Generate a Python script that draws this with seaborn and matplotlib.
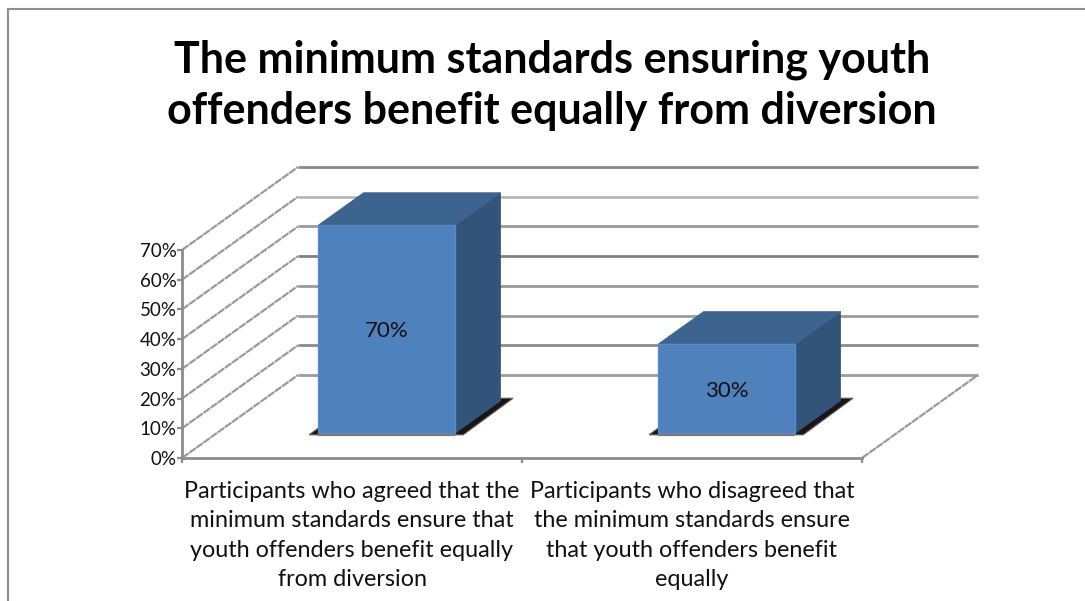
import matplotlib
matplotlib.use("Agg")
import matplotlib.pyplot as plt
from matplotlib.lines import Line2D
from matplotlib.patches import Polygon
from matplotlib.transforms import Affine2D
import pandas as pd
import seaborn as sns

categories = [
    "Participants who agreed that the\nminimum standards ensure that\nyouth offenders benefit equally\nfrom diversion",
    "Participants who disagreed that\nthe minimum standards ensure\nthat youth offenders benefit\nequally",
]
shares = [0.70, 0.30]
share_labels = ["70%", "30%"]
y_ticks = [0.0, 0.1, 0.2, 0.3, 0.4, 0.5, 0.6, 0.7]
y_tick_labels = ["0%", "10%", "20%", "30%", "40%", "50%", "60%", "70%"]
title_text = "The minimum standards ensuring youth\noffenders benefit equally from diversion"

W, H = 1085, 601
sns.set_theme(style="white")
plt.rcParams["font.family"] = ["Lato", "DejaVu Sans"]

fig = plt.figure(figsize=(W / 100, H / 100), dpi=100, facecolor="white")
ax = fig.add_axes([182 / W, 1 - 458 / H, 680 / W, 208 / H])
ax.set_facecolor("none")

# Oblique projection: full chart depth expressed in data units
DEPTH_X = 116 / 340
DEPTH_Y = 83 / (208 / 0.7)
BAR_FRONT, BAR_BACK = 0.30, 0.69


def project(x, y, depth):
    return (x + depth * DEPTH_X, y + depth * DEPTH_Y)


frame = pd.DataFrame({"category": categories, "share": shares})
sns.barplot(data=frame, x="category", y="share", width=0.403, color="#4F81BD",
            saturation=1, edgecolor="#5B8BC6", linewidth=1, ax=ax, zorder=5)
ax.set_xlim(-0.5, 1.5)
ax.set_ylim(0, 0.7)
ax.set_xlabel("")
ax.set_ylabel("")

# Back wall and side wall grid
wall_shades = ["#9c9c9c", "#8a8a8a", "#9c9c9c", "#9a9a9a", "#828282", "#9a9a9a", "#b8b8b8", "#8a8a8a"]
wall_dash = (0, (3.6, 0.35))
for tick, shade in zip(y_ticks, wall_shades):
    xs, ys = zip(project(-0.5, tick, 1), project(1.5, tick, 1))
    ax.plot(xs, ys, color=shade, lw=2.0, clip_on=False, zorder=1, solid_capstyle="butt")
    xs, ys = zip(project(-0.5, tick, 0), project(-0.5, tick, 1))
    ax.plot(xs, ys, color="#9a9a9a", lw=1.6, ls=wall_dash, clip_on=False, zorder=1)
xs, ys = zip(project(1.5, 0, 0), project(1.5, 0, 1))
ax.plot(xs, ys, color="#9a9a9a", lw=1.6, ls=wall_dash, clip_on=False, zorder=1)

# Turn each flat bar into a box standing on the floor
lift = Affine2D().translate(BAR_FRONT * DEPTH_X, BAR_FRONT * DEPTH_Y) + ax.transData
for bar, label in zip(ax.patches, share_labels):
    left, right = bar.get_x(), bar.get_x() + bar.get_width()
    top = bar.get_height()
    bar.set_transform(lift)
    bar.set_clip_on(False)

    pad_l, pad_r = 8 / 340, 9 / 340
    ax.add_patch(Polygon(
        [project(left - pad_l, -0.003, 0.29), project(right + pad_r, -0.003, 0.29),
         project(right + pad_r, 0, 0.72), project(left - pad_l, 0, 0.72)],
        closed=True, facecolor="#1c1414", edgecolor="#5a5a5a", lw=0.8,
        clip_on=False, zorder=2))
    ax.add_patch(Polygon(
        [project(right, 0, BAR_FRONT), project(right, 0, BAR_BACK),
         project(right, top, BAR_BACK), project(right, top, BAR_FRONT)],
        closed=True, facecolor="#325479", edgecolor="#325479", lw=0.5,
        clip_on=False, zorder=4))
    ax.add_patch(Polygon(
        [project(left, top, BAR_FRONT), project(right, top, BAR_FRONT),
         project(right, top, BAR_BACK), project(left, top, BAR_BACK)],
        closed=True, facecolor="#3D638F", edgecolor="#3D638F", lw=0.5,
        clip_on=False, zorder=4))
    xs, ys = zip(project(left, -0.006, BAR_FRONT), project(right, -0.006, BAR_FRONT))
    ax.plot(xs, ys, color="#7a7a7a", lw=1.6, clip_on=False, zorder=6, solid_capstyle="butt")

    cx, cy = project((left + right) / 2, top / 2, BAR_FRONT)
    ax.text(cx, cy - 0.008, label, ha="center", va="center", fontsize=16,
            color="#111111", zorder=7)

# Axes
ax.set_yticks(y_ticks, y_tick_labels)
ax.set_xticks([0, 1], categories)
ax.set_xticks([-0.5, 0.5, 1.5], minor=True)
ax.tick_params(axis="y", length=3.5, width=1.6, color="#8c8c8c", pad=0.5, labelsize=13.5,
               labelcolor="#111111", left=True)
ax.tick_params(axis="x", which="major", length=0, pad=16.5, labelsize=16.8, labelcolor="#111111")
ax.tick_params(axis="x", which="minor", length=3.5, width=1.6, color="#8c8c8c", bottom=True)
for tick_label in ax.get_xticklabels():
    tick_label.set_linespacing(1.5)
    tick_label.set_ha("center")
for tick_label in ax.get_yticklabels():
    tick_label.set_va("center_baseline")
for side in ("top", "right"):
    ax.spines[side].set_visible(False)
for side in ("left", "bottom"):
    ax.spines[side].set_color("#8c8c8c")
    ax.spines[side].set_linewidth(2.0)

fig.text(552 / W, 1 - 85 / H, title_text, ha="center", va="center", fontsize=31,
         fontweight="bold", color="black", linespacing=1.33)

# Outer chart border, running off the right and bottom of the canvas
fig.add_artist(Line2D([8 / W, 8 / W], [0, 1 - 9 / H], color="#8e8e8e", lw=1.5))
fig.add_artist(Line2D([8 / W, 1], [1 - 9 / H, 1 - 9 / H], color="#8e8e8e", lw=1.5))

fig.savefig("out.png", dpi=100, facecolor="white")
